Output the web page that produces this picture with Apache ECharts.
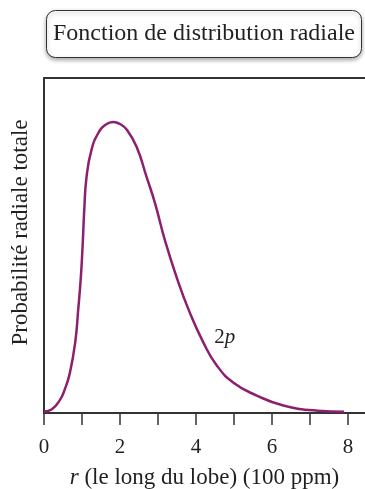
<!DOCTYPE html>
<html>
<head>
<meta charset="utf-8">
<script src="https://cdn.jsdelivr.net/npm/echarts@6/dist/echarts.min.js"></script>
<style>
  html, body { margin: 0; padding: 0; background: #fff; }
  #chart { width: 365px; height: 489px; }
</style>
</head>
<body>
<div id="chart"></div>
<script>
// Radial distance r along the lobe (units of 100 pm)
const radius = [0.0, 0.2, 0.42, 0.55, 0.68, 0.82, 0.90, 0.97, 1.02, 1.06, 1.12, 1.25, 1.43, 1.62, 1.82,
                2.0, 2.18, 2.44, 2.70, 2.92, 3.18, 3.49, 3.84, 4.2, 4.54, 4.98, 5.6, 6.3, 7.2, 7.9];
// Total radial probability for the 2p orbital (percent of the maximum)
const probability2p = [0.5, 1.2, 4.5, 8.2, 13.7, 24.1, 35.4, 46.7, 58.4, 69.8, 81.1, 90.4, 96.2, 99.0, 100,
                       99.3, 97.3, 91.4, 81.1, 72.2, 59.5, 46.7, 34.4, 24.1, 16.5, 10.5, 6.0, 2.6, 0.8, 0.45];
const xTicks = [0, 1, 2, 3, 4, 5, 6, 7, 8];
const xLabels = [0, 2, 4, 6, 8];

const serif = '"Liberation Serif", "DejaVu Serif", serif';
const ink = '#231f20';
const curveColor = '#8c1f6e';

const chart = echarts.init(document.getElementById('chart'), null, { renderer: 'canvas' });

chart.setOption({
  animation: false,
  backgroundColor: '#fff',
  title: {
    text: 'Fonction de distribution radiale',
    left: 46,
    top: 10,
    padding: [12, 7, 12, 7],
    backgroundColor: '#fff',
    borderColor: '#333',
    borderWidth: 1,
    borderRadius: 9,
    shadowColor: 'rgba(0,0,0,0.35)',
    shadowBlur: 4,
    shadowOffsetY: 2,
    textStyle: { fontFamily: serif, fontSize: 24, fontWeight: 'normal', color: ink }
  },
  grid: { left: 44, right: 0, top: 78, bottom: 76, containLabel: false, outerBoundsMode: 'none' },
  xAxis: [{
    type: 'value',
    min: 0,
    max: 8.45,
    interval: 1,
    position: 'bottom',
    axisLine: { show: true, onZero: false, lineStyle: { color: '#333', width: 2 } },
    axisTick: { show: true, inside: false, length: 12, customValues: xTicks, lineStyle: { color: '#333', width: 1.5 } },
    axisLabel: { show: true, customValues: xLabels, margin: 24, fontFamily: serif, fontSize: 21, color: ink },
    splitLine: { show: false },
    name: '{i|r} (le long du lobe) (100 ppm)',
    nameLocation: 'middle',
    nameGap: 53,
    nameTextStyle: {
      fontFamily: serif, fontSize: 23, color: ink,
      rich: { i: { fontFamily: serif, fontSize: 23, fontStyle: 'italic', color: ink } }
    }
  }, {
    type: 'value',
    min: 0,
    max: 8.45,
    position: 'top',
    axisLine: { show: true, onZero: false, lineStyle: { color: '#333', width: 2 } },
    axisTick: { show: false },
    axisLabel: { show: false },
    splitLine: { show: false }
  }],
  yAxis: {
    type: 'value',
    min: 0,
    max: 115.1,
    axisLine: { show: true, onZero: false, lineStyle: { color: '#333', width: 2 } },
    axisTick: { show: false },
    axisLabel: { show: false },
    splitLine: { show: false },
    name: 'Probabilité radiale totale',
    nameLocation: 'middle',
    nameGap: 12,
    nameTextStyle: { fontFamily: serif, fontSize: 23, color: ink, padding: [0, 0, 0, 26] }
  },
  series: [{
    type: 'line',
    xAxisIndex: 0,
    data: radius.map((r, i) => [r, probability2p[i]]),
    smooth: 0.5,
    showSymbol: false,
    lineStyle: { color: curveColor, width: 2.5 },
    markPoint: {
      symbol: 'circle',
      symbolSize: 0,
      data: [{ coord: [4.76, 25.8] }],
      label: {
        show: true,
        position: 'inside',
        formatter: '2{i|p}',
        fontFamily: serif, fontSize: 21, color: ink,
        rich: { i: { fontFamily: serif, fontSize: 21, fontStyle: 'italic', color: ink } }
      }
    }
  }]
});
</script>
</body>
</html>
